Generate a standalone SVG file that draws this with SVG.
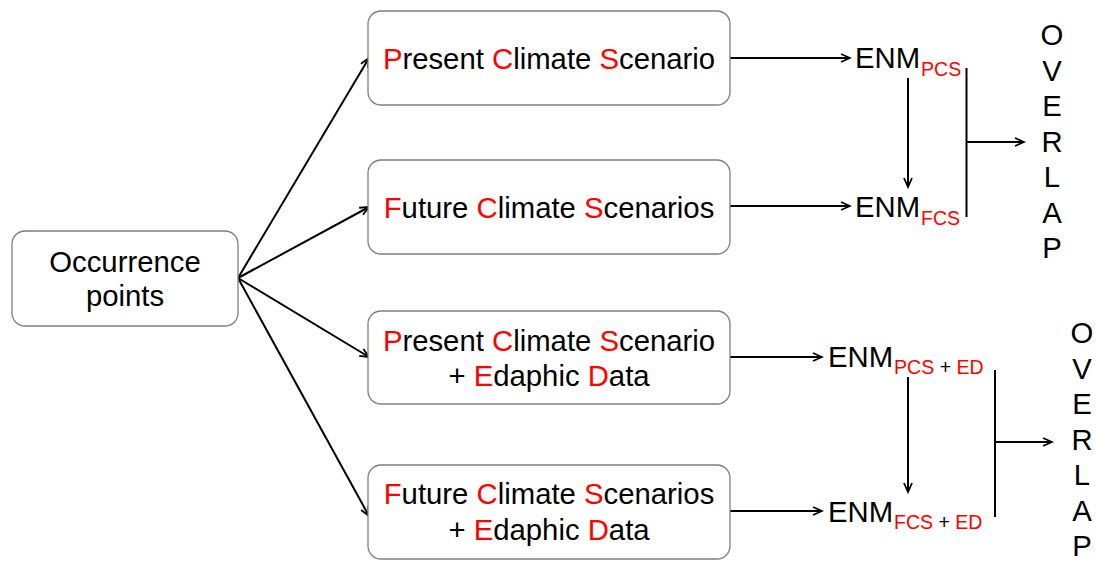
<svg xmlns="http://www.w3.org/2000/svg" width="1096" height="561" viewBox="0 0 1096 561">
<style>
.box{fill:#fff;stroke:#7f7f7f;stroke-width:1.3}
.t{font-family:"Liberation Sans",Arial,sans-serif;font-size:29.3px;fill:#000}
.c{text-anchor:middle}
.r{fill:#ff0000}
.sub{font-size:19.5px}
.ln{stroke:#000;stroke-width:2;fill:none}
</style>
<defs>
<marker id="ah" markerWidth="12" markerHeight="12" refX="10" refY="5" orient="auto" markerUnits="userSpaceOnUse" viewBox="0 0 12 10">
<path d="M1,1 L10,5 L1,9" fill="none" stroke="#000" stroke-width="1.8"/>
</marker>
</defs>
<rect width="1096" height="561" fill="#fff"/>
<g id="connectors">
<line class="ln" x1="238" y1="278" x2="369" y2="58" marker-end="url(#ah)"/>
<line class="ln" x1="238" y1="278" x2="369" y2="207" marker-end="url(#ah)"/>
<line class="ln" x1="238" y1="278" x2="369" y2="357" marker-end="url(#ah)"/>
<line class="ln" x1="238" y1="278" x2="369" y2="516" marker-end="url(#ah)"/>
<line class="ln" x1="730" y1="58" x2="850" y2="58" marker-end="url(#ah)"/>
<line class="ln" x1="730" y1="206" x2="850" y2="206" marker-end="url(#ah)"/>
<line class="ln" x1="908" y1="78" x2="908" y2="187" marker-end="url(#ah)"/>
<line class="ln" x1="966.5" y1="68" x2="966.5" y2="217"/>
<line class="ln" x1="966.5" y1="142" x2="1024" y2="142" marker-end="url(#ah)"/>
<line class="ln" x1="730" y1="357" x2="822" y2="357" marker-end="url(#ah)"/>
<line class="ln" x1="730" y1="511" x2="822" y2="511" marker-end="url(#ah)"/>
<line class="ln" x1="908" y1="377" x2="908" y2="492" marker-end="url(#ah)"/>
<line class="ln" x1="995" y1="370" x2="995" y2="517"/>
<line class="ln" x1="995" y1="442" x2="1052" y2="442" marker-end="url(#ah)"/>
</g>
<g id="occurrence">
<rect class="box" x="12" y="231" width="226" height="95" rx="13"/>
<text class="t c" x="125" y="272">Occurrence</text>
<text class="t c" x="125" y="306">points</text>
</g>
<g id="pcs">
<rect class="box" x="368" y="11" width="362" height="94" rx="13"/>
<text class="t c" x="549" y="69"><tspan class="r">P</tspan>resent <tspan class="r">C</tspan>limate <tspan class="r">S</tspan>cenario</text>
</g>
<g id="fcs">
<rect class="box" x="368" y="160" width="362" height="94" rx="13"/>
<text class="t c" x="549" y="218"><tspan class="r">F</tspan>uture <tspan class="r">C</tspan>limate <tspan class="r">S</tspan>cenarios</text>
</g>
<g id="pcs-ed">
<rect class="box" x="368" y="311" width="362" height="93" rx="13"/>
<text class="t c" x="549" y="351"><tspan class="r">P</tspan>resent <tspan class="r">C</tspan>limate <tspan class="r">S</tspan>cenario</text>
<text class="t c" x="549" y="386">+ <tspan class="r">E</tspan>daphic <tspan class="r">D</tspan>ata</text>
</g>
<g id="fcs-ed">
<rect class="box" x="368" y="465" width="362" height="94" rx="13"/>
<text class="t c" x="549" y="504"><tspan class="r">F</tspan>uture <tspan class="r">C</tspan>limate <tspan class="r">S</tspan>cenarios</text>
<text class="t c" x="549" y="540">+ <tspan class="r">E</tspan>daphic <tspan class="r">D</tspan>ata</text>
</g>
<g id="enm-pcs">
<text class="t" x="855" y="68">ENM<tspan class="sub r" dx="1" dy="8">PCS</tspan></text>
</g>
<g id="enm-fcs">
<text class="t" x="855" y="217">ENM<tspan class="sub r" dx="1" dy="8">FCS</tspan></text>
</g>
<g id="enm-pcs-ed">
<text class="t" x="828" y="367">ENM<tspan class="sub r" dx="1" dy="7">PCS</tspan><tspan class="sub"> + </tspan><tspan class="sub r">ED</tspan></text>
</g>
<g id="enm-fcs-ed">
<text class="t" x="828" y="522">ENM<tspan class="sub r" dx="1" dy="7">FCS</tspan><tspan class="sub"> + </tspan><tspan class="sub r">ED</tspan></text>
</g>
<g id="overlap1">
<text class="t c" x="1052" y="45">O</text>
<text class="t c" x="1052" y="81">V</text>
<text class="t c" x="1052" y="116">E</text>
<text class="t c" x="1052" y="152">R</text>
<text class="t c" x="1052" y="187">L</text>
<text class="t c" x="1052" y="223">A</text>
<text class="t c" x="1052" y="258">P</text>
</g>
<g id="overlap2">
<text class="t c" x="1082" y="343">O</text>
<text class="t c" x="1082" y="379">V</text>
<text class="t c" x="1082" y="414">E</text>
<text class="t c" x="1082" y="450">R</text>
<text class="t c" x="1082" y="485">L</text>
<text class="t c" x="1082" y="521">A</text>
<text class="t c" x="1082" y="556">P</text>
</g>
</svg>
